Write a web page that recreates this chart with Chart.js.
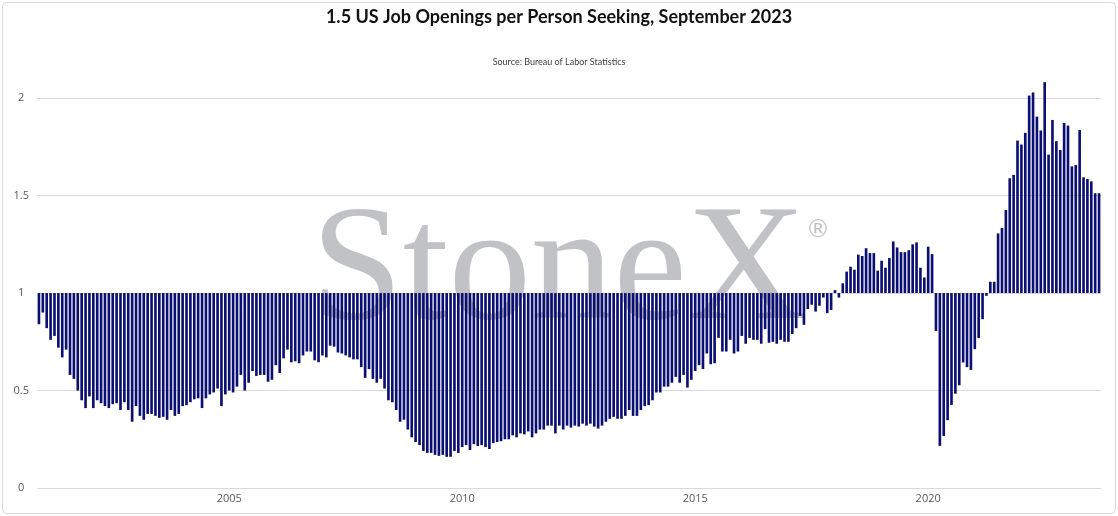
<!DOCTYPE html>
<html>
<head>
<meta charset="utf-8">
<script src="https://cdn.jsdelivr.net/npm/chart.js@4.4.0/dist/chart.umd.min.js"></script>
<style>
  html, body { margin: 0; padding: 0; background: #fff; }
  #wrap { position: relative; width: 1118px; height: 516px; }
</style>
</head>
<body>
<div id="wrap"><canvas id="jobsChart"></canvas></div>
<script>
// monthly ratio of job openings to unemployed persons, Dec 2000 .. Sep 2023
const startYear = 2000;
const startMonth = 12;
const tickYears = ['2005', '2010', '2015', '2020'];
const baseLine = 1;

const ratio = [
  // Dec 2000 - 2004
  0.84, 0.90, 0.82, 0.76, 0.78, 0.72, 0.67, 0.71, 0.58, 0.56,
  0.50, 0.45, 0.41, 0.47, 0.41, 0.45, 0.435, 0.42, 0.41, 0.43,
  0.435, 0.40, 0.44, 0.40, 0.34, 0.42, 0.37, 0.35, 0.38, 0.38,
  0.37, 0.36, 0.365, 0.35, 0.40, 0.37, 0.38, 0.42, 0.425, 0.44,
  0.455, 0.46, 0.41, 0.46, 0.48, 0.49, 0.51, 0.42,
  // 2004 - 2008
  0.48, 0.50, 0.49, 0.52, 0.58, 0.50, 0.54, 0.60, 0.575, 0.58,
  0.58, 0.545, 0.555, 0.63, 0.59, 0.665, 0.71, 0.645, 0.65, 0.64,
  0.68, 0.70, 0.70, 0.655, 0.645, 0.68, 0.67, 0.73, 0.725, 0.695,
  0.69, 0.68, 0.67, 0.66, 0.66, 0.62, 0.565, 0.61, 0.56, 0.54,
  0.56, 0.51, 0.45, 0.44, 0.40, 0.34, 0.35,
  // 2008 - 2012
  0.30, 0.26, 0.236, 0.22, 0.19, 0.18, 0.18, 0.17, 0.165, 0.17,
  0.16, 0.16, 0.19, 0.18, 0.21, 0.22, 0.195, 0.225, 0.215, 0.22,
  0.21, 0.20, 0.23, 0.236, 0.24, 0.25, 0.25, 0.27, 0.26, 0.28,
  0.275, 0.29, 0.26, 0.28, 0.30, 0.30, 0.32, 0.32, 0.28, 0.32,
  0.30, 0.32, 0.31, 0.32, 0.315, 0.33, 0.32,
  // 2012 - 2016
  0.33, 0.315, 0.305, 0.32, 0.34, 0.355, 0.365, 0.355, 0.355, 0.37,
  0.40, 0.37, 0.37, 0.40, 0.42, 0.425, 0.45, 0.49, 0.49, 0.52,
  0.52, 0.54, 0.57, 0.54, 0.58, 0.515, 0.555, 0.60, 0.63, 0.61,
  0.69, 0.635, 0.64, 0.77, 0.70, 0.70, 0.76, 0.69, 0.70, 0.78,
  0.74, 0.77, 0.76, 0.76, 0.74, 0.815, 0.745, 0.75,
  // 2016 - 2020
  0.74, 0.76, 0.75, 0.75, 0.79, 0.82, 0.883, 0.837, 0.918, 0.94,
  0.905, 0.935, 0.977, 0.897, 0.913, 1.015, 0.977, 1.05, 1.11, 1.135,
  1.12, 1.197, 1.19, 1.23, 1.205, 1.205, 1.115, 1.166, 1.13, 1.18,
  1.265, 1.234, 1.21, 1.21, 1.22, 1.25, 1.26, 1.13, 1.08, 1.238,
  1.20, 0.806, 0.216, 0.267, 0.348, 0.426, 0.484, 0.527,
  // 2020 - Sep 2023
  0.644, 0.62, 0.606, 0.712, 0.769, 0.866, 0.986, 1.058, 1.058, 1.306,
  1.334, 1.426, 1.589, 1.606, 1.782, 1.762, 1.822, 2.013, 2.029, 1.905,
  1.834, 2.082, 1.71, 1.888, 1.779, 1.734, 1.873, 1.859, 1.65, 1.657,
  1.837, 1.594, 1.585, 1.573, 1.512, 1.512
];

// month labels "YYYY-MM"
const months = [];
for (let i = 0; i < ratio.length; i++) {
  const m = (startMonth - 1 + i) % 12 + 1;
  const y = startYear + Math.floor((startMonth - 1 + i) / 12);
  months.push(y + '-' + String(m).padStart(2, '0'));
}

// bars float from the 1.0 line to the value
const barData = ratio.map(v => [baseLine, v]);

const watermark = {
  id: 'watermark',
  beforeDatasetsDraw(chart) {
    const ctx = chart.ctx;
    ctx.save();
    ctx.fillStyle = '#c1c2c5';
    ctx.font = '165px "Liberation Serif", "DejaVu Serif", serif';
    ctx.textBaseline = 'alphabetic';
    ctx.fillText('StoneX', 311, 318);
    ctx.font = '24px "DejaVu Sans", sans-serif';
    ctx.fillText('®', 806, 237);
    ctx.restore();
  },
  afterDraw(chart) {
    const ctx = chart.ctx;
    ctx.save();
    ctx.strokeStyle = '#d9d9d9';
    ctx.lineWidth = 1;
    ctx.beginPath();
    ctx.roundRect(2.5, 2.5, chart.width - 5, chart.height - 5, 4);
    ctx.stroke();
    ctx.restore();
  }
};

new Chart(document.getElementById('jobsChart'), {
  type: 'bar',
  data: {
    labels: months,
    datasets: [{
      label: 'Job openings per unemployed person',
      data: barData,
      backgroundColor: '#0b0f72',
      borderWidth: 0,
      barPercentage: 0.68,
      categoryPercentage: 1.0
    }]
  },
  options: {
    responsive: true,
    maintainAspectRatio: false,
    animation: false,
    layout: { padding: { left: 2, right: 2, top: 0, bottom: 6.8 } },
    plugins: {
      legend: { display: false },
      tooltip: { enabled: false },
      title: {
        display: true,
        text: '1.5 US Job Openings per Person Seeking, September 2023',
        color: '#111111',
        font: { family: 'Lato', size: 18, weight: 'bold' },
        padding: { top: 6.5, bottom: 0 }
      },
      subtitle: {
        display: true,
        text: 'Source: Bureau of Labor Statistics',
        color: '#404040',
        font: { family: 'Lato', size: 9 },
        padding: { top: 29, bottom: 0 }
      }
    },
    scales: {
      x: {
        grid: { display: false, drawTicks: false },
        border: { display: false },
        ticks: {
          autoSkip: false,
          maxRotation: 0,
          padding: 4,
          color: '#595959',
          font: { family: 'Open Sans', size: 11 },
          callback: function (val) {
            const lab = this.getLabelForValue(val);
            const yr = lab.slice(0, 4);
            return (lab.endsWith('-01') && tickYears.includes(yr)) ? yr : '';
          }
        }
      },
      y: {
        min: 0,
        max: 2.155,
        grid: { color: '#d9d9d9', lineWidth: 1, drawTicks: false },
        border: { display: false },
        ticks: {
          stepSize: 0.5,
          padding: 8,
          crossAlign: 'center',
          color: '#595959',
          font: { family: 'Open Sans', size: 11 },
          callback: v => String(Math.round(v * 10) / 10)
        },
        afterBuildTicks(scale) {
          scale.ticks = scale.ticks.filter(t => Math.abs(t.value * 2 - Math.round(t.value * 2)) < 1e-9);
        },
        afterFit(scale) { scale.width = 35; }
      },
      // empty right-hand axis, only reserves the right margin
      yRight: {
        position: 'right',
        display: true,
        grid: { display: false, drawTicks: false },
        border: { display: false },
        ticks: { display: false },
        afterFit(scale) { scale.width = 15; }
      }
    }
  },
  plugins: [watermark]
});
</script>
</body>
</html>
